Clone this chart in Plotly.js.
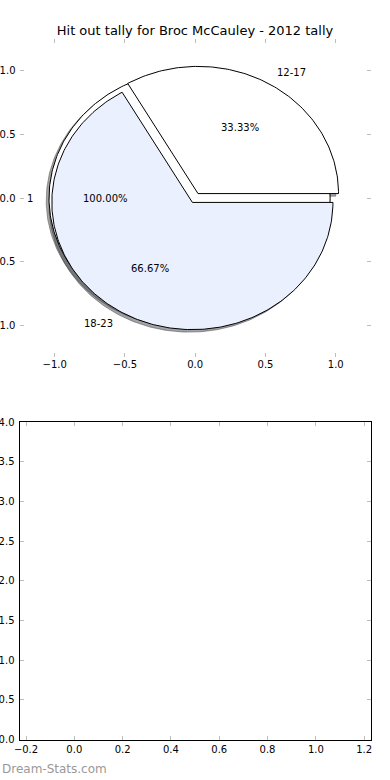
<!DOCTYPE html>
<html><head><meta charset="utf-8">
<script src="https://cdn.plot.ly/plotly-3.0.1.min.js"></script>
<style>html,body{margin:0;padding:0;background:#fff}#chart{width:390px;height:780px}</style>
</head><body><div id="chart"></div>
<script>
// ---- data ----
const outerLabels = ['1'];
const outerValues = [1];
const outerColors = ['#ffffff'];
const outerExplode = [0.04];

const ageLabels = ['12-17', '18-23'];
const ageValues = [1, 2];
const ageColors = ['#ffffff', '#eaf0fe'];
const ageExplode = [0.04, 0.04];

const pieTicks = [-1.0, -0.5, 0.0, 0.5, 1.0];
const emptyXTicks = [-0.2, 0.0, 0.2, 0.4, 0.6, 0.8, 1.0, 1.2];
const emptyYTicks = [0.0, 0.5, 1.0, 1.5, 2.0, 2.5, 3.0, 3.5, 4.0];

const titleText = 'Hit out tally for Broc McCauley - 2012 tally';
const watermark = 'Dream-Stats.com';

// ---- pie geometry (matplotlib style: start 0deg, counter-clockwise, radius 1) ----
function buildWedges(values, labels, colors, explode) {
  const total = values.reduce((a, b) => a + b, 0);
  let theta1 = 0;
  const out = [];
  values.forEach((v, i) => {
    const frac = v / total;
    const theta2 = theta1 + frac * 360;
    const thm = Math.PI * (theta1 + theta2) / 360;
    const cx = explode[i] * Math.cos(thm);
    const cy = explode[i] * Math.sin(thm);
    const n = Math.max(8, Math.round(frac * 360));
    const xs = [], ys = [];
    const full = Math.abs(frac - 1) < 1e-9;
    if (!full) { xs.push(cx); ys.push(cy); }
    for (let k = 0; k <= n; k++) {
      const a = Math.PI / 180 * (theta1 + (theta2 - theta1) * k / n);
      xs.push(cx + Math.cos(a)); ys.push(cy + Math.sin(a));
    }
    if (!full) { xs.push(cx); ys.push(cy); }
    out.push({xs, ys, cx, cy, thm, frac, label: labels[i], color: colors[i]});
    theta1 = theta2;
  });
  return out;
}

function shadowColor(hex) {
  const r = parseInt(hex.slice(1, 3), 16), g = parseInt(hex.slice(3, 5), 16), b = parseInt(hex.slice(5, 7), 16);
  return 'rgba(' + Math.round(r * 0.3) + ',' + Math.round(g * 0.3) + ',' + Math.round(b * 0.3) + ',0.5)';
}

const pies = [
  buildWedges(outerValues, outerLabels, outerColors, outerExplode),
  buildWedges(ageValues, ageLabels, ageColors, ageExplode)
];

const traces = [];
// shadows first
pies.forEach(p => p.forEach(w => {
  const c = shadowColor(w.color);
  traces.push({
    type: 'scatter', mode: 'lines', xaxis: 'x', yaxis: 'y',
    x: w.xs.map(v => v - 0.02), y: w.ys.map(v => v - 0.02),
    fill: 'toself', fillcolor: c, line: {color: c, width: 1},
    hoverinfo: 'skip', showlegend: false
  });
}));
// wedges
pies.forEach(p => p.forEach(w => {
  traces.push({
    type: 'scatter', mode: 'lines', xaxis: 'x', yaxis: 'y',
    x: w.xs, y: w.ys,
    fill: 'toself', fillcolor: w.color, line: {color: '#000000', width: 1},
    hoverinfo: 'skip', showlegend: false
  });
}));
// empty second axes
traces.push({type: 'scatter', mode: 'markers', x: [], y: [], xaxis: 'x2', yaxis: 'y2', showlegend: false});

const textFont = {family: 'DejaVu Sans', size: 10, color: '#000000'};
const annotations = [];
pies.forEach(p => p.forEach(w => {
  const lx = w.cx + 1.1 * Math.cos(w.thm);
  const ly = w.cy + 1.1 * Math.sin(w.thm);
  annotations.push({xref: 'x', yref: 'y', x: lx, y: ly, text: w.label, showarrow: false,
    xanchor: lx > 0 ? 'left' : 'right', yanchor: 'middle', font: textFont});
  const px = w.cx + 0.6 * Math.cos(w.thm);
  const py = w.cy + 0.6 * Math.sin(w.thm);
  annotations.push({xref: 'x', yref: 'y', x: px, y: py, text: (w.frac * 100).toFixed(2) + '%', showarrow: false,
    xanchor: 'center', yanchor: 'middle', font: textFont});
}));
annotations.push({xref: 'paper', yref: 'paper', x: 0, y: 1 - 769 / 780, xanchor: 'left', yanchor: 'middle',
  text: watermark, showarrow: false, font: {family: 'DejaVu Sans', size: 12, color: '#999999'}});

const tickCommon = {
  ticks: 'inside', ticklen: 4, tickwidth: 1, tickcolor: '#bdbdbd',
  showgrid: false, zeroline: false, tickformat: '.1f', tickmode: 'array',
  tickfont: textFont, fixedrange: true, automargin: false
};

const layout = {
  width: 390, height: 780,
  margin: {l: 0, r: 0, t: 0, b: 0},
  paper_bgcolor: '#ffffff', plot_bgcolor: 'rgba(0,0,0,0)',
  showlegend: false,
  title: {text: titleText, x: 0.5, xanchor: 'center', y: 1 - 30 / 780, yanchor: 'middle',
    font: {family: 'DejaVu Sans', size: 13, color: '#000000'}},
  xaxis: Object.assign({}, tickCommon, {domain: [0.05, 0.951], range: [-1.25, 1.25], tickvals: pieTicks,
    anchor: 'y', showline: false, mirror: 'ticks'}),
  yaxis: Object.assign({}, tickCommon, {domain: [1 - 357 / 780, 1 - 39 / 780], range: [-1.25, 1.25], tickvals: pieTicks,
    anchor: 'x', showline: false, mirror: 'ticks', ticklabelstandoff: 3}),
  xaxis2: Object.assign({}, tickCommon, {domain: [0.05, 0.951], range: [-0.227, 1.228], tickvals: emptyXTicks,
    anchor: 'y2', showline: true, linecolor: '#000000', linewidth: 1, mirror: 'ticks'}),
  yaxis2: Object.assign({}, tickCommon, {domain: [1 - 739.5 / 780, 1 - 422.3 / 780], range: [0, 4], tickvals: emptyYTicks,
    anchor: 'x2', showline: true, linecolor: '#000000', linewidth: 1, mirror: 'ticks', ticklabelstandoff: 2}),
  annotations: annotations
};

Plotly.newPlot('chart', traces, layout, {displayModeBar: false, staticPlot: true});
</script>
</body></html>
